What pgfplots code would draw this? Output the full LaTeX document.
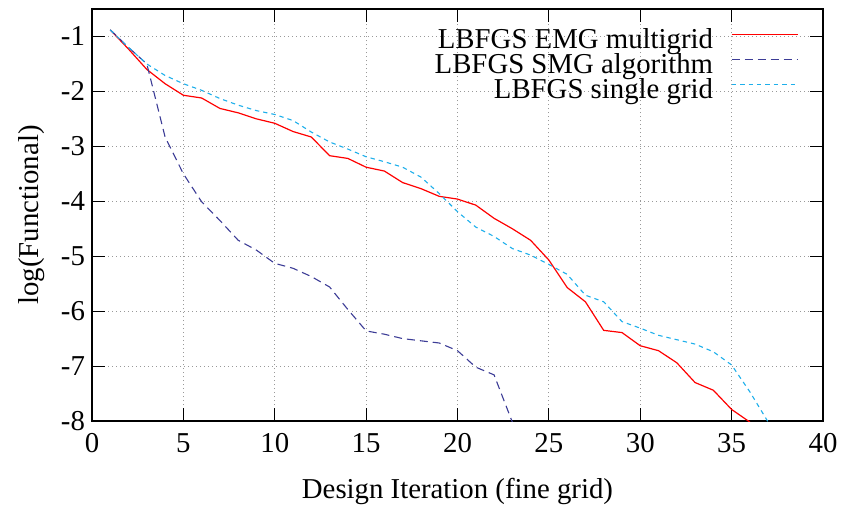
\documentclass[border=0pt]{standalone}
\usepackage{pgfplots}
\pgfplotsset{compat=1.18}
\usepackage{fontspec}
\setmainfont{Liberation Serif}

\definecolor{emgred}{RGB}{255,0,0}
\definecolor{smgblue}{RGB}{60,60,150}
\definecolor{sgcyan}{RGB}{30,175,235}

\begin{document}
\begin{tikzpicture}[font=\fontsize{14.4}{17}\selectfont]
\begin{axis}[
    scale only axis,
    width=365.5pt, height=206pt,
    xmin=0, xmax=40, ymin=-8, ymax=-0.5,
    xtick={0,5,...,40}, ytick={-8,-7,...,-1},
    /pgf/number format/assume math mode=true,
    tick align=inside, major tick length=6.5pt,
    tick style={black, line width=0.5pt},
    axis line style={line width=0.7pt},
    grid=major,
    major grid style={gray!80, line width=0.5pt, dash pattern=on 0.6pt off 1.4pt},
    xticklabel style={yshift=-2.7pt},
    xlabel={Design Iteration (fine grid)},
    ylabel={log(Functional)},
    xlabel style={yshift=-6pt},
    ylabel style={yshift=1pt},
    legend style={at={(rel axis cs:0.975,0.962)}, anchor=north east, draw=none, fill=none,
        legend cell align=right, row sep=0pt,
        nodes={inner ysep=0pt, text height=9.8pt, text depth=2.7pt}},
    legend plot pos=right,
    legend image code/.code={\path (0pt,0pt); \draw[#1] (7pt,3.6pt) -- (40pt,3.6pt);},
]
\addplot[emgred, line width=0.6pt] coordinates {
(1,-0.88)(2,-1.23)(3,-1.60)(4,-1.86)(5,-2.07)(6,-2.12)(7,-2.31)(8,-2.39)(9,-2.50)(10,-2.58)
(11,-2.73)(12,-2.83)(13,-3.17)(14,-3.22)(15,-3.38)(16,-3.45)(17,-3.66)(18,-3.77)(19,-3.91)(20,-3.96)
(21,-4.07)(22,-4.31)(23,-4.50)(24,-4.71)(25,-5.07)(26,-5.57)(27,-5.83)(28,-6.35)(29,-6.39)(30,-6.63)
(31,-6.72)(32,-6.94)(33,-7.30)(34,-7.44)(35,-7.79)(36,-8.02)};
\addplot[smgblue, line width=0.55pt, dash pattern=on 4pt off 2.5pt] coordinates {
(1,-0.88)(2,-1.20)(3,-1.50)(4,-2.83)(5,-3.50)(6,-4.01)(7,-4.35)(8,-4.71)(9,-4.89)(10,-5.13)
(11,-5.22)(12,-5.37)(13,-5.56)(14,-5.97)(15,-6.36)(16,-6.42)(17,-6.50)(18,-6.54)(19,-6.58)(20,-6.72)
(21,-7.02)(22,-7.16)(23,-8.02)};
\addplot[sgcyan, line width=0.55pt, dash pattern=on 2.2pt off 2pt] coordinates {
(1,-0.88)(2,-1.20)(3,-1.50)(4,-1.71)(5,-1.86)(6,-1.98)(7,-2.13)(8,-2.25)(9,-2.35)(10,-2.42)
(11,-2.53)(12,-2.74)(13,-2.92)(14,-3.05)(15,-3.19)(16,-3.28)(17,-3.38)(18,-3.56)(19,-3.86)(20,-4.19)
(21,-4.47)(22,-4.64)(23,-4.86)(24,-4.98)(25,-5.15)(26,-5.33)(27,-5.71)(28,-5.83)(29,-6.19)(30,-6.31)
(31,-6.44)(32,-6.52)(33,-6.60)(34,-6.74)(35,-6.98)(36,-7.47)(37,-8.02)};
\legend{LBFGS EMG multigrid, LBFGS SMG algorithm, LBFGS single grid}
\end{axis}
\pgfresetboundingbox
\path[use as bounding box] (-46pt,-41.5pt) rectangle (376.5pt,210.5pt);
\end{tikzpicture}
\end{document}
